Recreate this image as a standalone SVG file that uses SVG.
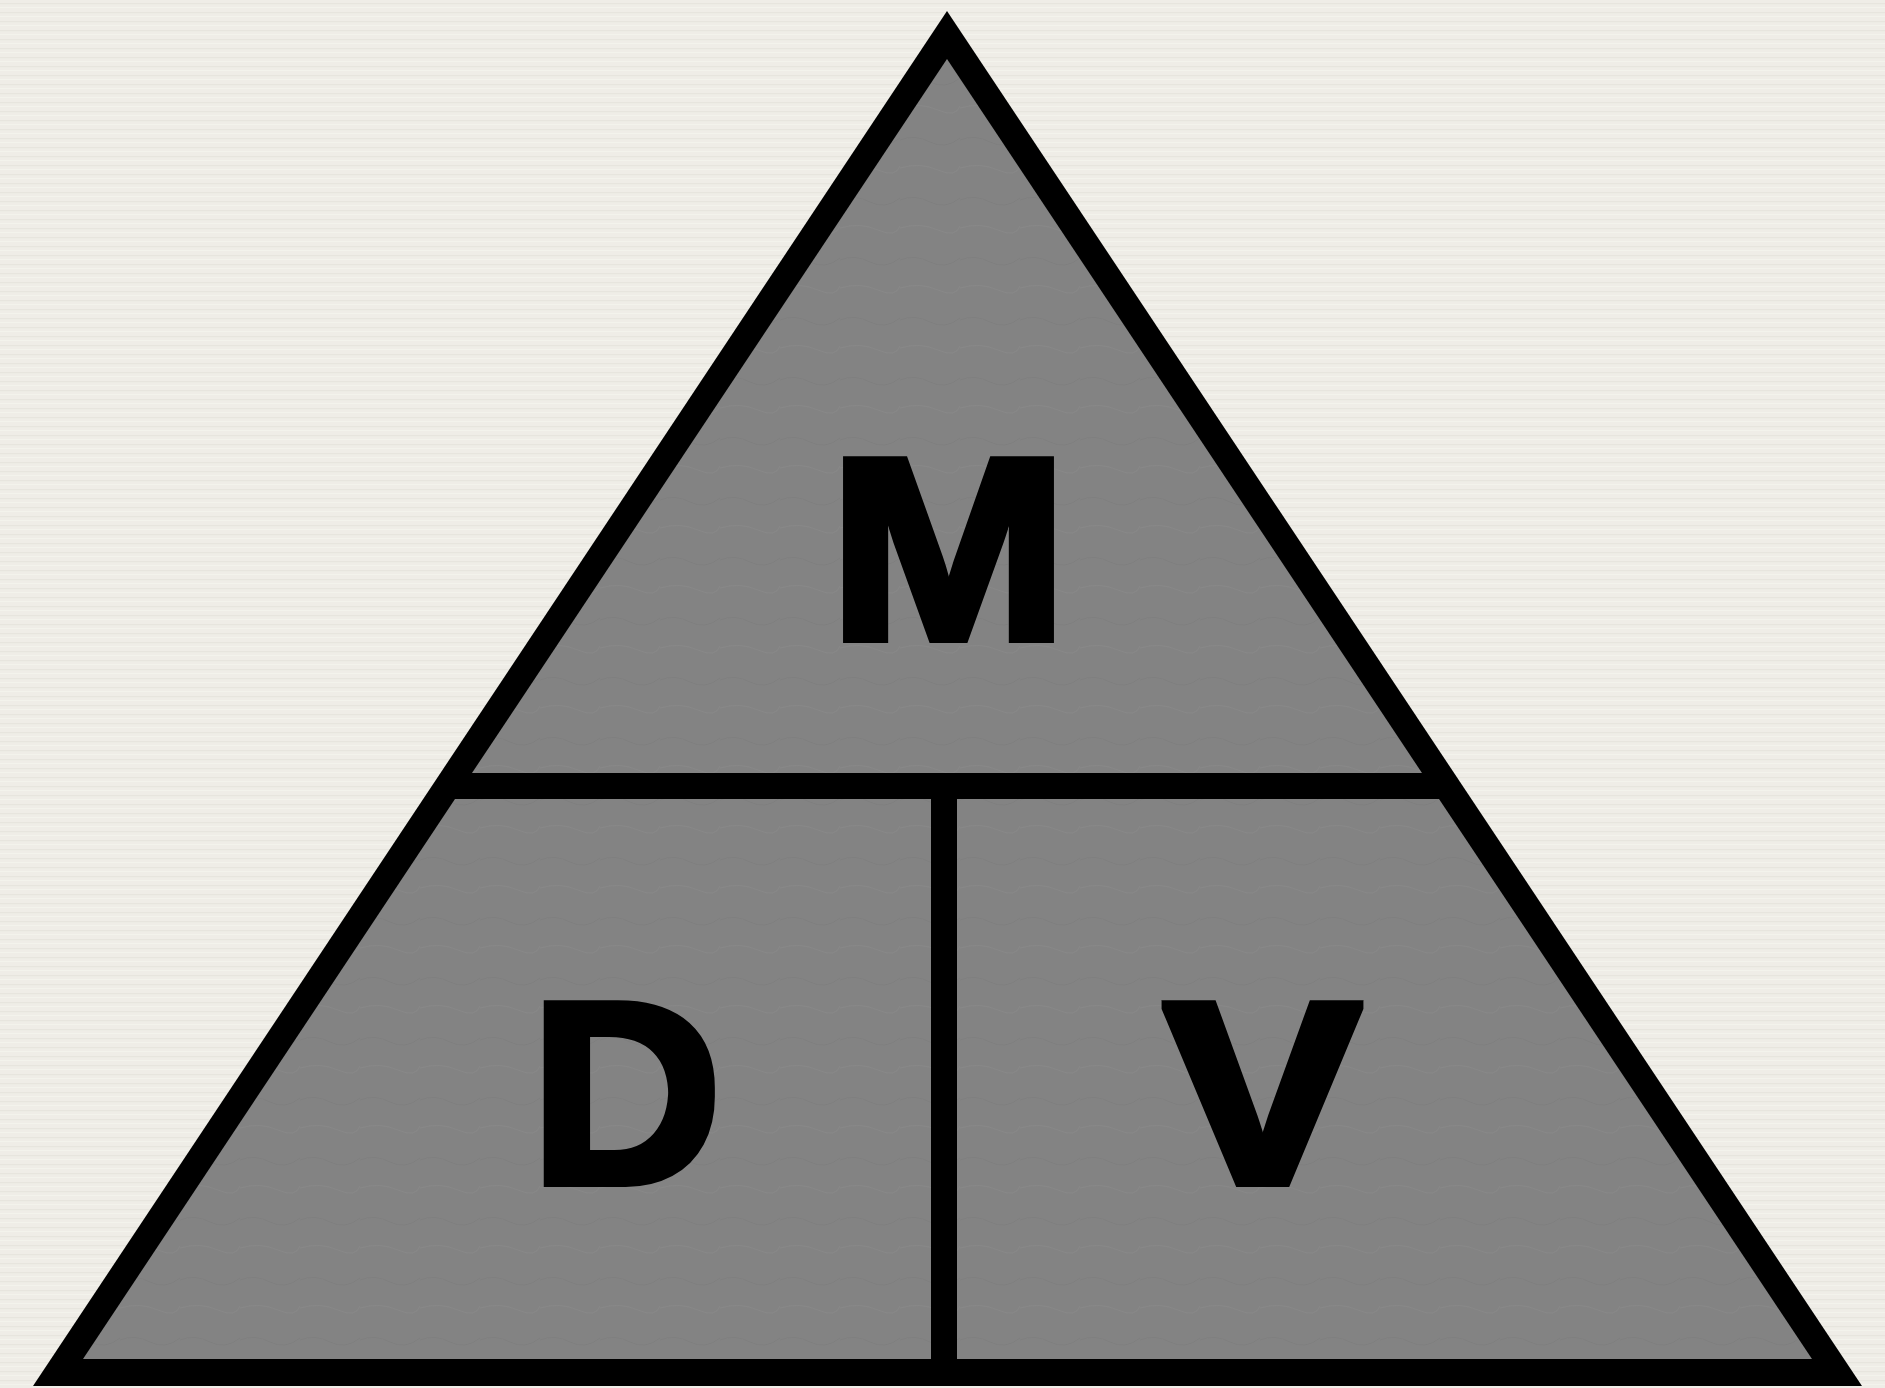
<svg xmlns="http://www.w3.org/2000/svg" width="1885" height="1388" viewBox="0 0 1885 1388">
  <style>
    .cell { fill: url(#stone); }
    .frame { fill: #000000; }
    .letter { font-family: "Liberation Sans", Arial, sans-serif; font-weight: bold; font-size: 260px; fill: #000000; text-anchor: middle; filter: url(#heavy); }
  </style>
  <defs>
    <filter id="heavy" x="-40%" y="-40%" width="180%" height="180%">
      <feMorphology operator="dilate" radius="4"/>
    </filter>
    <pattern id="paper" width="40" height="9" patternUnits="userSpaceOnUse">
      <rect width="40" height="9" fill="#efede7"/>
      <rect y="3" width="40" height="1.2" fill="#e4e2db" opacity="0.7"/>
      <rect y="7" width="40" height="0.8" fill="#f6f5f0" opacity="0.8"/>
    </pattern>
    <pattern id="stone" width="60" height="60" patternUnits="userSpaceOnUse">
      <rect width="60" height="60" fill="#838383"/>
      <path d="M0 20 Q15 14 30 22 T60 18" stroke="#7a7a7a" stroke-width="1" fill="none" opacity="0.5"/>
      <path d="M0 48 Q20 42 38 50 T60 46" stroke="#8b8b8b" stroke-width="1" fill="none" opacity="0.5"/>
    </pattern>
  </defs>

  <rect id="background" width="1885" height="1388" fill="url(#paper)"/>

  <g id="triangle">
    <polygon class="frame" points="947,11 33,1386 1862,1386"/>
    <polygon id="cell-top" class="cell" points="947,59 472,773 1422,773"/>
    <polygon id="cell-bottom-left" class="cell" points="455,799 931,799 931,1359 83,1359"/>
    <polygon id="cell-bottom-right" class="cell" points="957,799 1439,799 1812,1359 957,1359"/>
  </g>

  <g id="connectors">
    <polygon id="divider-horizontal" class="frame" points="458,773 1436,773 1453,799 441,799"/>
    <rect id="divider-vertical" class="frame" x="931" y="799" width="26" height="560"/>
  </g>

  <g id="node-M">
    <text class="letter" transform="translate(948.5,639) scale(1.116,1)">M</text>
  </g>
  <g id="node-D">
    <text class="letter" transform="translate(626,1183) scale(1.023,1)">D</text>
  </g>
  <g id="node-V">
    <text class="letter" transform="translate(1262.5,1183) scale(1.133,1)">V</text>
  </g>
</svg>
